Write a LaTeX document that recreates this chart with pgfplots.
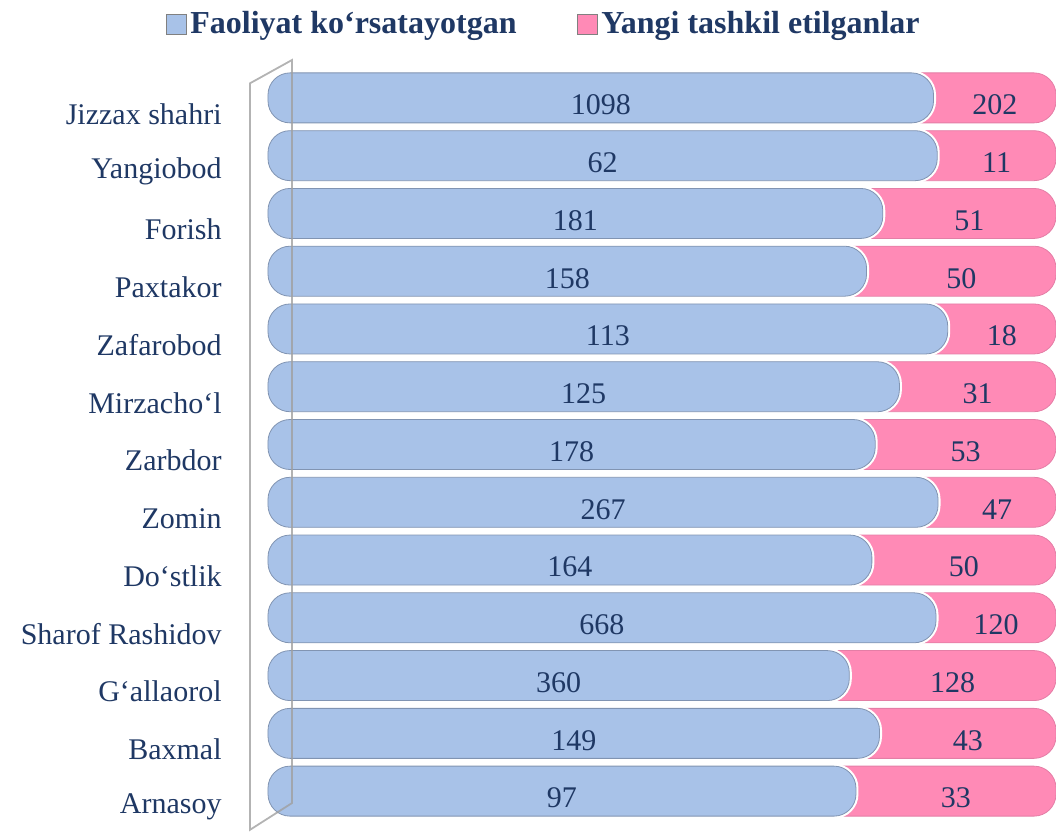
\documentclass[border=0pt]{standalone}
\usepackage{pgfplots}
\pgfplotsset{compat=1.18}
\usepackage{pgfplotstable}
\usepackage{fontspec}
\setmainfont{Liberation Serif}

\definecolor{barblue}{HTML}{A8C2E8}
\definecolor{barblueedge}{HTML}{8194B2}
\definecolor{barpink}{HTML}{FF8AB6}
\definecolor{barpinkedge}{HTML}{E47EA6}
\definecolor{txt}{HTML}{1F3864}
\definecolor{wall}{HTML}{A0A0A0}

% idx = row from top; a = faoliyat ko'rsatayotgan, b = yangi tashkil etilganlar
\pgfplotstableread{
idx a b
0 1098 202
1 62 11
2 181 51
3 158 50
4 113 18
5 125 31
6 178 53
7 267 47
8 164 50
9 668 120
10 360 128
11 149 43
12 97 33
}\datatable

\begin{document}
\begin{tikzpicture}
  \begin{axis}[
      scale only axis,
      width=394pt, height=375.5pt,
      xmin=0, xmax=100,
      ymin=-0.5, ymax=12.5,
      y dir=reverse,
      hide x axis,
      axis y line*=left,
      y axis line style={draw=none},
      major tick length=0pt,
      clip=false,
      ytick={0,...,12},
      yticklabels={Jizzax shahri, Yangiobod, Forish, Paxtakor, Zafarobod,
          Mirzacho‘l, Zarbdor, Zomin, Do‘stlik, Sharof Rashidov,
          G‘allaorol, Baxmal, Arnasoy},
      yticklabel style={font=\fontsize{15}{15}\selectfont, text=txt,
          inner sep=0pt, xshift=-23pt, yshift=-8pt},
      /pgf/number format/assume math mode=true,
      /pgf/number format/1000 sep={},
      reverse legend,
      legend columns=2,
      legend style={at={(0.351,1)}, anchor=south, yshift=12pt, draw=none,
          font=\fontsize{16}{16}\selectfont\bfseries, text=txt,
          nodes={inner xsep=2pt},
          /tikz/every even column/.style={column sep=28pt}},
      legend image code/.code={
          \draw[#1, draw=gray, rounded corners=0pt] (0pt,-5pt) rectangle (10pt,5pt);},
    ]
    % pink bar spans the whole row, the blue share is drawn over it
    \addplot[xbar, bar width=25pt, bar shift=0pt, fill=barpink,
        draw=barpinkedge, rounded corners=11pt]
      table[x expr=100, y=idx] {\datatable};
    \addlegendentry{Yangi tashkil etilganlar}
    % white gap between the two segments
    \addplot[xbar, bar width=25pt, bar shift=0pt, fill=none, forget plot,
        draw=white, line width=2.5pt, rounded corners=11pt]
      table[x expr=100*\thisrow{a}/(\thisrow{a}+\thisrow{b}), y=idx] {\datatable};
    \addplot[xbar, bar width=25pt, bar shift=0pt, fill=barblue,
        draw=barblueedge, rounded corners=11pt]
      table[x expr=100*\thisrow{a}/(\thisrow{a}+\thisrow{b}), y=idx] {\datatable};
    \addlegendentry{Faoliyat ko‘rsatayotgan}

    % value labels, centred in each segment
    \addplot[draw=none, forget plot, nodes near coords, point meta=explicit,
        nodes near coords style={anchor=center, yshift=-3.5pt, text=txt,
            font=\fontsize{15}{15}\selectfont}]
      table[x expr=50*\thisrow{a}/(\thisrow{a}+\thisrow{b}), y=idx, meta=a] {\datatable};
    \addplot[draw=none, forget plot, nodes near coords, point meta=explicit,
        nodes near coords style={anchor=center, yshift=-3.5pt, text=txt,
            font=\fontsize{15}{15}\selectfont}]
      table[x expr=50+50*\thisrow{a}/(\thisrow{a}+\thisrow{b}), y=idx, meta=b] {\datatable};

    % 3D side wall outline
    \draw[wall, line width=0.9pt, draw opacity=0.8]
      (rel axis cs:-0.0228,0.981) -- (rel axis cs:0.0305,1.012)
      -- (rel axis cs:0.0305,0.0226) -- (rel axis cs:-0.0228,-0.013) -- cycle;
  \end{axis}
  \pgfresetboundingbox
  \path ([xshift=-134pt, yshift=-6pt]current axis.south west)
    rectangle ([yshift=34.5pt]current axis.north east);
\end{tikzpicture}
\end{document}
